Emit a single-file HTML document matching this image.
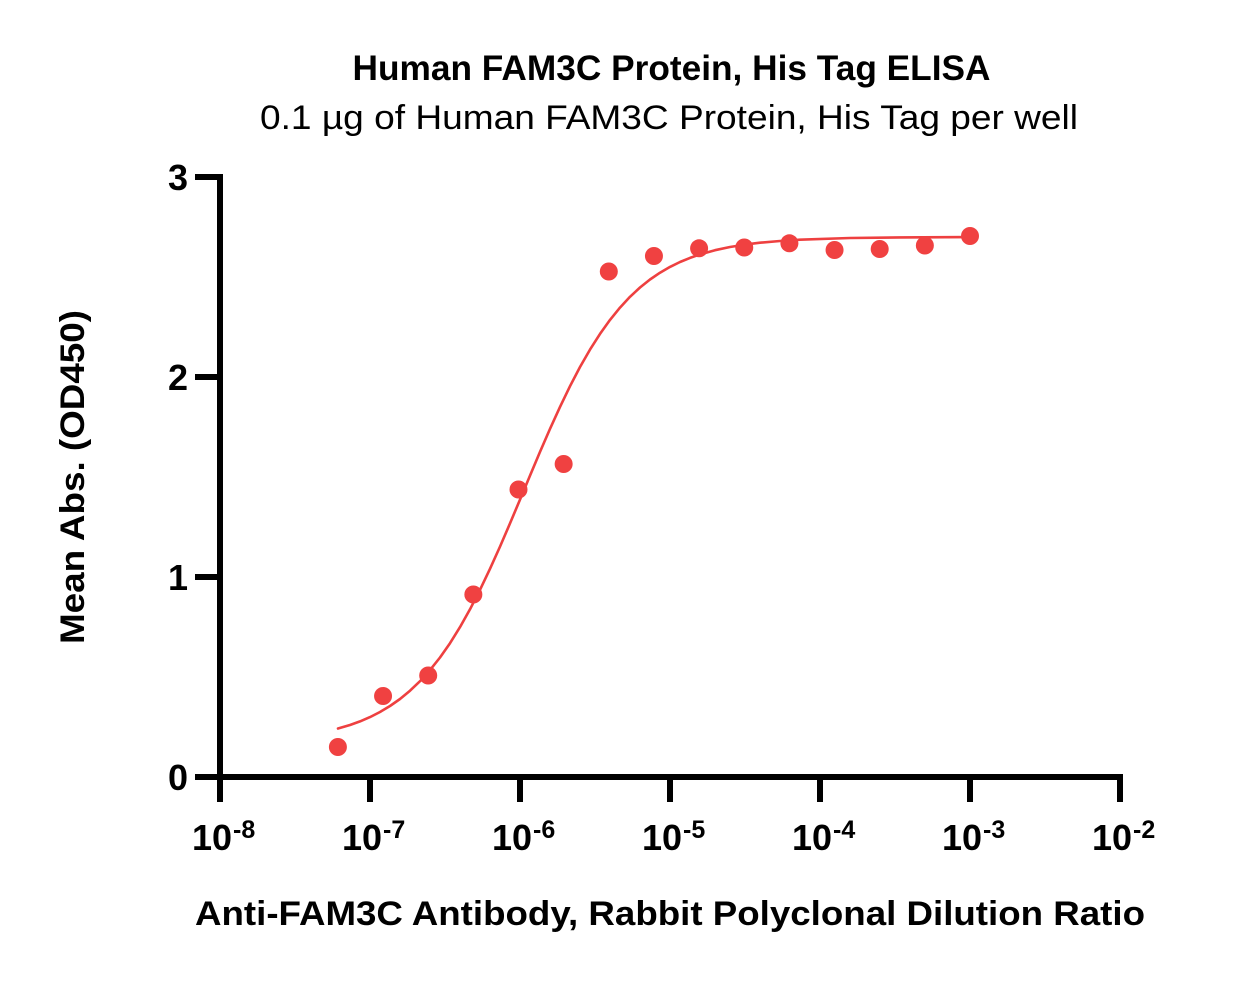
<!DOCTYPE html>
<html>
<head>
<meta charset="utf-8">
<style>
  html, body { margin: 0; padding: 0; background: #ffffff; }
  svg { display: block; }
  text { font-family: "Liberation Sans", "DejaVu Sans", sans-serif; fill: #000; }
</style>
</head>
<body>
<svg width="1245" height="981" viewBox="0 0 1245 981" xmlns="http://www.w3.org/2000/svg">
  <rect width="1245" height="981" fill="#ffffff"/>

  <!-- Titles -->
  <text x="671.5" y="80" font-size="35" font-weight="bold" text-anchor="middle" textLength="638" lengthAdjust="spacingAndGlyphs">Human FAM3C Protein, His Tag ELISA</text>
  <text x="669" y="129" font-size="34" text-anchor="middle" textLength="818" lengthAdjust="spacingAndGlyphs">0.1 µg of Human FAM3C Protein, His Tag per well</text>

  <!-- Axes -->
  <g stroke="#000" stroke-width="6" fill="none" stroke-linecap="butt">
    <line x1="220" y1="174" x2="220" y2="780"/>
    <line x1="195" y1="777" x2="1123" y2="777"/>
    <!-- y ticks -->
    <line x1="195" y1="177" x2="220" y2="177"/>
    <line x1="195" y1="377" x2="220" y2="377"/>
    <line x1="195" y1="577" x2="220" y2="577"/>
    <!-- x ticks -->
    <line x1="220" y1="777" x2="220" y2="802"/>
    <line x1="370" y1="777" x2="370" y2="802"/>
    <line x1="520" y1="777" x2="520" y2="802"/>
    <line x1="670" y1="777" x2="670" y2="802"/>
    <line x1="820" y1="777" x2="820" y2="802"/>
    <line x1="970" y1="777" x2="970" y2="802"/>
    <line x1="1120" y1="777" x2="1120" y2="802"/>
  </g>

  <!-- Y tick labels -->
  <g font-size="36" font-weight="bold" text-anchor="end">
    <text x="188" y="190">3</text>
    <text x="188" y="390">2</text>
    <text x="188" y="590">1</text>
    <text x="188" y="790">0</text>
  </g>

  <!-- X tick labels -->
  <g font-weight="bold">
    <text x="232" y="850" font-size="36" text-anchor="end">10</text>
    <text x="233" y="838" font-size="25">-8</text>
    <text x="382" y="850" font-size="36" text-anchor="end">10</text>
    <text x="383" y="838" font-size="25">-7</text>
    <text x="532" y="850" font-size="36" text-anchor="end">10</text>
    <text x="533" y="838" font-size="25">-6</text>
    <text x="682" y="850" font-size="36" text-anchor="end">10</text>
    <text x="683" y="838" font-size="25">-5</text>
    <text x="832" y="850" font-size="36" text-anchor="end">10</text>
    <text x="833" y="838" font-size="25">-4</text>
    <text x="982" y="850" font-size="36" text-anchor="end">10</text>
    <text x="983" y="838" font-size="25">-3</text>
    <text x="1132" y="850" font-size="36" text-anchor="end">10</text>
    <text x="1133" y="838" font-size="25">-2</text>
  </g>

  <!-- Axis titles -->
  <text x="670" y="925" font-size="34" font-weight="bold" text-anchor="middle" textLength="950" lengthAdjust="spacingAndGlyphs">Anti-FAM3C Antibody, Rabbit Polyclonal Dilution Ratio</text>
  <text transform="translate(84,477) rotate(-90)" x="0" y="0" font-size="34" font-weight="bold" text-anchor="middle" textLength="334" lengthAdjust="spacingAndGlyphs">Mean Abs. (OD450)</text>

  <!-- Fitted curve -->
  <path fill="none" stroke="#EE4040" stroke-width="2.6" stroke-linejoin="round" stroke-linecap="round"
    d="M338,728.5 L350,725.0 L360,721.4 L370,717.1 L380,712.0 L390,706.0 L400,699.0 L410,690.7 L420,681.2 L430,670.1 L440,657.5 L450,643.2 L460,627.1 L470,609.3 L480,589.8 L490,568.8 L500,546.6 L510,523.4 L520,499.6 L530,475.6 L540,451.9 L550,428.9 L560,406.9 L570,386.2 L580,367.0 L590,349.6 L600,333.9 L610,319.9 L620,307.6 L630,296.8 L640,287.5 L650,279.5 L660,272.7 L670,266.9 L680,262.0 L690,257.9 L700,254.4 L715,250.2 L730,247.0 L745,244.6 L760,242.7 L780,241.0 L800,239.7 L850,238.0 L900,237.4 L970,237.1"/>

  <!-- Data points -->
  <g fill="#F04141">
    <circle cx="337.9" cy="747" r="9"/>
    <circle cx="383.05" cy="696" r="9"/>
    <circle cx="428.2" cy="675.5" r="9"/>
    <circle cx="473.35" cy="594.5" r="9"/>
    <circle cx="518.5" cy="489.5" r="9"/>
    <circle cx="563.65" cy="464" r="9"/>
    <circle cx="608.8" cy="271.5" r="9"/>
    <circle cx="653.95" cy="256" r="9"/>
    <circle cx="699.1" cy="248.3" r="9"/>
    <circle cx="744.25" cy="247.5" r="9"/>
    <circle cx="789.4" cy="243.3" r="9"/>
    <circle cx="834.55" cy="250" r="9"/>
    <circle cx="879.7" cy="249" r="9"/>
    <circle cx="924.85" cy="245.5" r="9"/>
    <circle cx="970" cy="236" r="9"/>
  </g>
</svg>
</body>
</html>
